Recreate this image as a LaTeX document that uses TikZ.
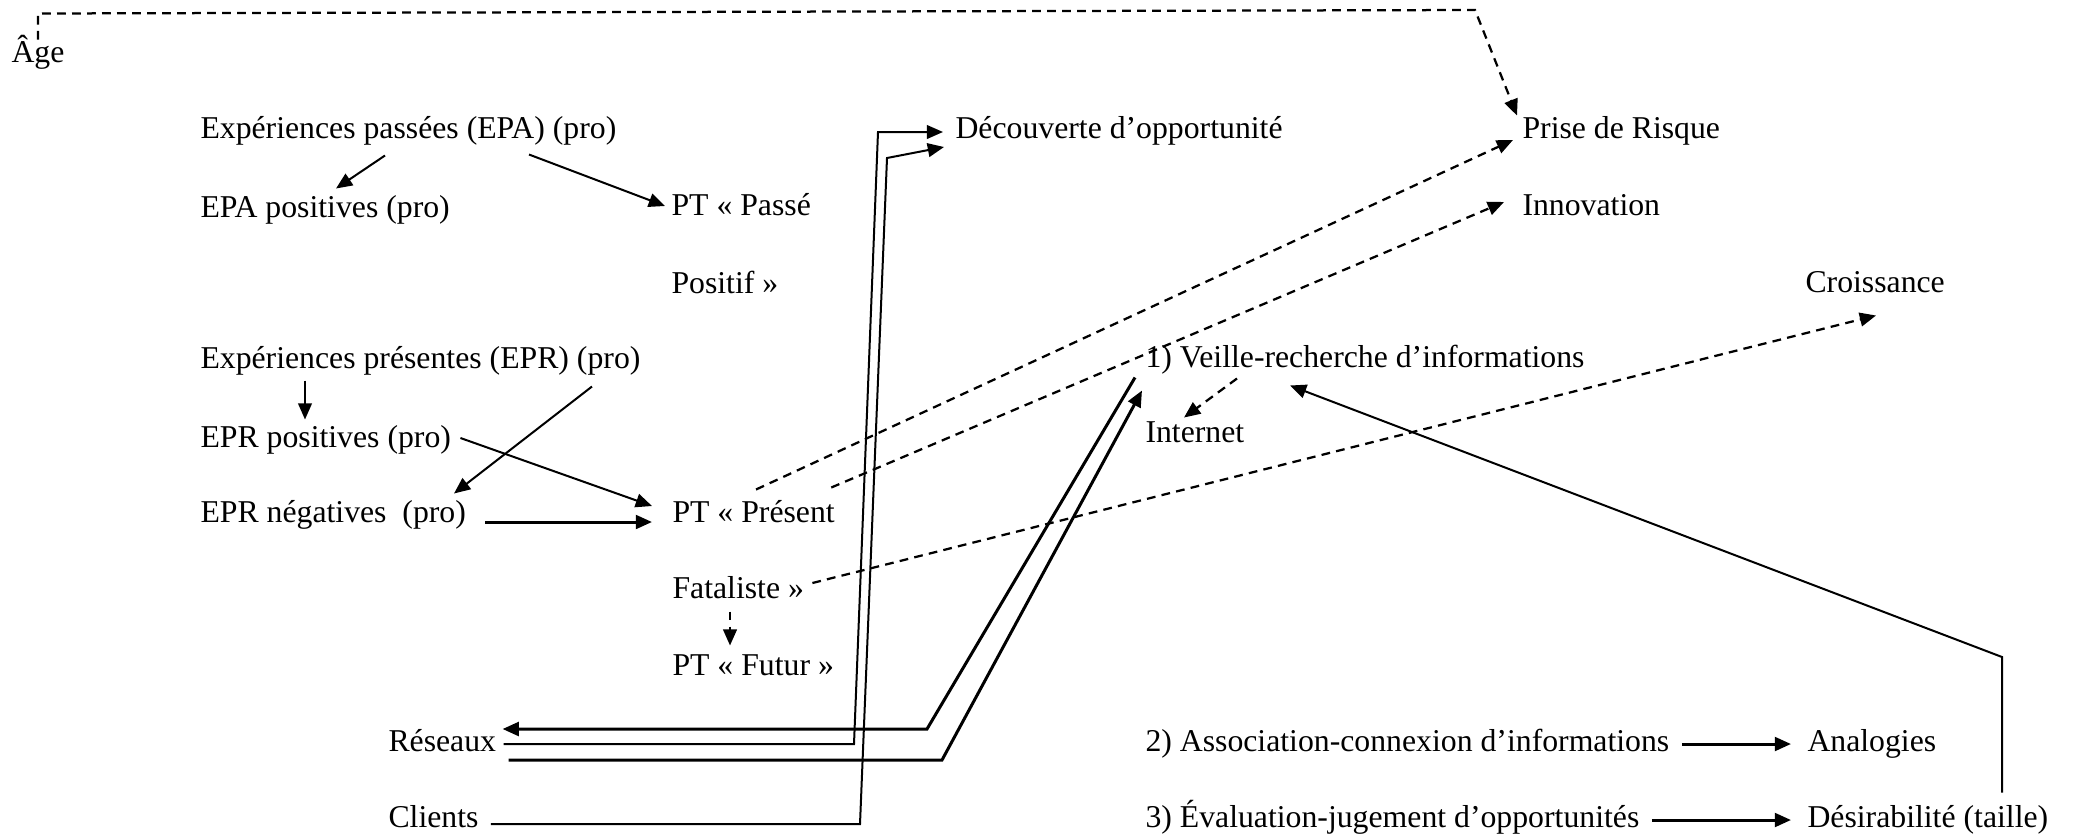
\documentclass[tikz,border=0pt]{standalone}
\usepackage{fontspec}
\setmainfont{Liberation Serif}
\usetikzlibrary{arrows.meta,calc}

\begin{document}
\begin{tikzpicture}[x=40pt,y=-40pt,
    lbl/.style={anchor=west,inner sep=0pt,text height=9pt,text depth=3pt,
                font=\fontsize{12.7}{15}\selectfont},
    arr/.style={-{Triangle[length=6.5pt,width=5.5pt]},line width=0.8pt},
    tarr/.style={arr,line width=1.2pt},
    darr/.style={arr,line width=0.9pt,dash pattern=on 3.5pt off 2.5pt}]
  \useasboundingbox (0,0) rectangle (20.73,8.38);

  % left column: experiences
  \node[lbl] (age)     at (0.11,0.55) {Âge};
  \node[lbl] (epa)     at (2.00,1.31) {Expériences passées (EPA) (pro)};
  \node[lbl] (epapos)  at (2.00,2.10) {EPA positives (pro)};
  \node[lbl] (epr)     at (2.00,3.61) {Expériences présentes (EPR) (pro)};
  \node[lbl] (eprpos)  at (2.00,4.40) {EPR positives (pro)};
  \node[lbl] (eprneg)  at (2.00,5.15) {EPR négatives~~(pro)};
  \node[lbl] (reseaux) at (3.88,7.44) {Réseaux};
  \node[lbl] (clients) at (3.88,8.20) {Clients};

  % time perspectives
  \node[lbl] (ptpasse) at (6.71,2.08) {PT «~Passé};
  \node[lbl] (positif) at (6.71,2.86) {Positif~»};
  \node[lbl] (ptpres)  at (6.72,5.15) {PT «~Présent};
  \node[lbl] (fatal)   at (6.72,5.91) {Fataliste~»};
  \node[lbl] (futur)   at (6.72,6.68) {PT «~Futur~»};

  % outcomes and process
  \node[lbl] (decouv)   at (9.55,1.31)  {Découverte d’opportunité};
  \node[lbl] (risque)   at (15.22,1.31) {Prise de Risque};
  \node[lbl] (innov)    at (15.22,2.08) {Innovation};
  \node[lbl] (croiss)   at (18.05,2.85) {Croissance};
  \node[lbl] (veille)   at (11.45,3.60) {1) Veille-recherche d’informations};
  \node[lbl] (internet) at (11.45,4.35) {Internet};
  \node[lbl] (assoc)    at (11.45,7.44) {2) Association-connexion d’informations};
  \node[lbl] (analog)   at (18.07,7.44) {Analogies};
  \node[lbl] (evalu)    at (11.45,8.20) {3) Évaluation-jugement d’opportunités};
  \node[lbl] (desir)    at (18.07,8.20) {Désirabilité (taille)};

  \draw[darr] ($(age.north west)+(0.27,0)$) -- ++(0,-0.26) -- (14.75,0.10)
    -- ($(risque.north west)+(-0.05,0)$);

  \draw[arr] ($(epa.south west)+(1.85,0.09)$) -- ($(epapos.north west)+(1.36,-0.06)$);
  \draw[arr] ($(epa.south west)+(3.29,0.08)$) -- ($(ptpasse.west)+(-0.06,-0.02)$);

  \draw[arr] ($(epr.south west)+(1.05,0.04)$) -- ($(eprpos.north west)+(1.05,-0.05)$);
  \draw[arr] ($(epr.south west)+(3.92,0.10)$) -- ($(eprneg.north west)+(2.54,-0.06)$);
  \draw[arr] ($(eprpos.east)+(0.09,-0.02)$) -- ($(ptpres.west)+(-0.20,-0.09)$);
  \draw[tarr] ($(eprneg.east)+(0.19,0.07)$) -- ($(ptpres.west)+(-0.20,0.07)$);

  \draw[darr] ($(ptpres.north west)+(0.84,-0.10)$) -- ($(risque.west)+(-0.09,0.09)$);
  \draw[darr] ($(ptpres.north east)+(-0.04,-0.12)$) -- ($(innov.west)+(-0.18,-0.06)$);
  \draw[darr] ($(fatal.east)+(0.08,-0.08)$) -- ($(croiss.south west)+(0.71,0.15)$);
  \draw[darr] ($(fatal.south west)+(0.58,0.05)$) -- ($(futur.north west)+(0.58,-0.07)$);

  % networks and clients
  \draw[arr] ($(reseaux.east)+(0.07,0)$) -- (8.54,7.44) -- (8.78,1.32)
    -- ($(decouv.west)+(-0.12,0.01)$);
  \draw[arr] ($(clients.east)+(0.12,0.04)$) -- (8.60,8.24) -- (8.87,1.58)
    -- ($(decouv.west)+(-0.11,0.16)$);
  \draw[tarr] ($(veille.south west)+(-0.10,0.02)$) -- (9.27,7.29)
    -- ($(reseaux.east)+(0.06,-0.15)$);
  \draw[tarr] ($(reseaux.east)+(0.12,0.16)$) -- (9.42,7.60)
    -- ($(veille.south west)+(-0.03,0.15)$);

  \draw[darr] ($(veille.south west)+(0.92,0.03)$) -- ($(internet.north west)+(0.39,-0.02)$);
  \draw[arr] ($(desir.north west)+(1.95,-0.12)$) -- (20.02,6.57)
    -- ($(veille.south west)+(1.45,0.10)$);
  \draw[tarr] ($(assoc.east)+(0.12,0)$) -- ($(analog.west)+(-0.16,0)$);
  \draw[tarr] ($(evalu.east)+(0.12,0)$) -- ($(desir.west)+(-0.16,0)$);
\end{tikzpicture}
\end{document}
